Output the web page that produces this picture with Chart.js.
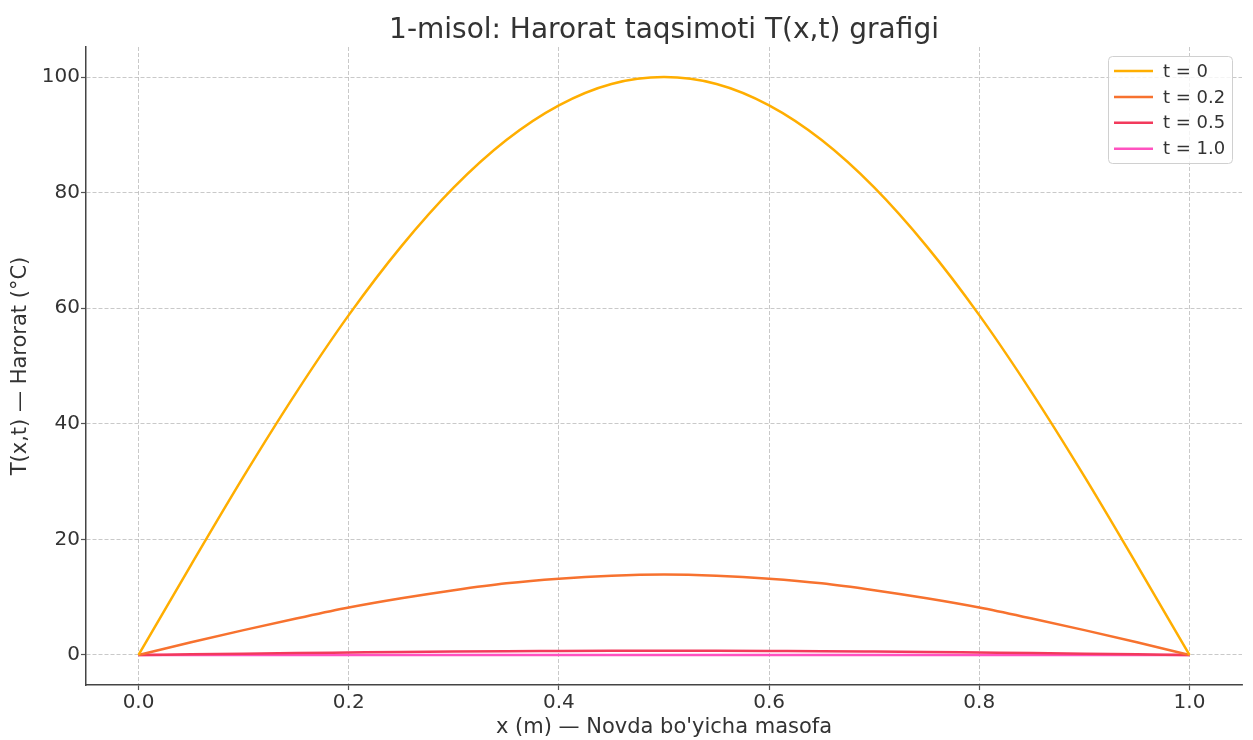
<!DOCTYPE html>
<html>
<head>
<meta charset="utf-8">
<script src="https://cdn.jsdelivr.net/npm/chart.js@4/dist/chart.umd.min.js"></script>
<style>
html,body{margin:0;padding:0;background:#fff;}
#wrap{width:1253px;height:740px;position:relative;}
</style>
</head>
<body>
<div id="wrap"><canvas id="c" width="1253" height="740"></canvas></div>
<script>
const titleText = "1-misol: Harorat taqsimoti T(x,t) grafigi";
const xTitle = "x (m) — Novda bo'yicha masofa";
const yTitle = "T(x,t) — Harorat (°C)";
const xValues = [0,0.05,0.1,0.15,0.2,0.25,0.3,0.35,0.4,0.45,0.5,0.55,0.6,0.65,0.7,0.75,0.8,0.85,0.9,0.95,1.0];
const seriesLabels = ["t = 0","t = 0.2","t = 0.5","t = 1.0"];
const seriesColors = ["#FFAE00","#F7722F","#F23A5C","#FF52C0"];
const t0   = [0,15.6,30.9,45.4,58.8,70.7,80.9,89.1,95.1,98.8,100,98.8,95.1,89.1,80.9,70.7,58.8,45.4,30.9,15.6,0];
const t02  = [0,2.2,4.3,6.3,8.2,9.8,11.2,12.4,13.2,13.7,13.9,13.7,13.2,12.4,11.2,9.8,8.2,6.3,4.3,2.2,0];
const t05  = [0,0.11,0.22,0.33,0.42,0.51,0.58,0.64,0.68,0.71,0.72,0.71,0.68,0.64,0.58,0.51,0.42,0.33,0.22,0.11,0];
const t10  = [0,0.001,0.002,0.002,0.003,0.004,0.004,0.005,0.005,0.005,0.005,0.005,0.005,0.005,0.004,0.004,0.003,0.002,0.002,0.001,0];
const xTicks = [0,0.2,0.4,0.6,0.8,1.0];
const yTicks = [0,20,40,60,80,100];
const allSeries = [t0,t02,t05,t10];

const FONT = "'DejaVu Sans', sans-serif";
const datasets = allSeries.map((vals,i)=>({
  label: seriesLabels[i],
  data: xValues.map((x,j)=>({x:x,y:vals[j]})),
  borderColor: seriesColors[i],
  backgroundColor: seriesColors[i],
  borderWidth: 2.5,
  pointRadius: 0,
  cubicInterpolationMode: 'monotone',
  fill: false
}));

const titlePlugin = {
  id:'mplTitle',
  afterDraw(chart){
    const ctx = chart.ctx;
    const ca = chart.chartArea;
    ctx.save();
    ctx.fillStyle = '#333';
    ctx.font = "28px " + FONT;
    ctx.textAlign = 'center';
    ctx.textBaseline = 'alphabetic';
    ctx.fillText(titleText, (ca.left+ca.right)/2, 38);
    // legend
    const lx = 1108, ly = 56, lw = 124, lh = 107;
    ctx.fillStyle = 'rgba(255,255,255,0.8)';
    ctx.strokeStyle = '#d0d0d0';
    ctx.lineWidth = 1;
    roundRect(ctx, lx+0.5, ly+0.5, lw, lh, 4);
    ctx.fill(); ctx.stroke();
    ctx.font = "18px " + FONT;
    ctx.textAlign = 'left';
    ctx.textBaseline = 'middle';
    chart.data.datasets.forEach((ds,i)=>{
      const y = ly + 15 + i*25.9;
      ctx.strokeStyle = ds.borderColor;
      ctx.lineWidth = 2.5;
      ctx.beginPath(); ctx.moveTo(lx+6, y); ctx.lineTo(lx+45, y); ctx.stroke();
      ctx.fillStyle = '#333';
      ctx.fillText(ds.label, lx+55, y+1);
    });
    ctx.restore();
  }
};
function roundRect(ctx,x,y,w,h,r){
  ctx.beginPath();
  ctx.moveTo(x+r,y);
  ctx.lineTo(x+w-r,y); ctx.quadraticCurveTo(x+w,y,x+w,y+r);
  ctx.lineTo(x+w,y+h-r); ctx.quadraticCurveTo(x+w,y+h,x+w-r,y+h);
  ctx.lineTo(x+r,y+h); ctx.quadraticCurveTo(x,y+h,x,y+h-r);
  ctx.lineTo(x,y+r); ctx.quadraticCurveTo(x,y,x+r,y);
  ctx.closePath();
}

new Chart(document.getElementById('c'), {
  type:'line',
  data:{datasets},
  options:{
    responsive:false,
    animation:false,
    layout:{padding:{top:47,right:11,left:0,bottom:0}},
    plugins:{legend:{display:false},title:{display:false},tooltip:{enabled:false}},
    scales:{
      x:{
        type:'linear', min:-0.05, max:1.05,
        afterBuildTicks(s){ s.ticks = xTicks.map(v=>({value:v})); },
        afterFit(s){ s.height = 55; },
        ticks:{ color:'#333', font:{family:FONT,size:20}, padding:1,
          callback:(v)=>Number(v).toFixed(1) },
        grid:{ color:'rgba(165,165,165,0.75)', lineWidth:0.8, tickLength:5, tickColor:'#555', tickWidth:1.2 },
        border:{ dash:[4,2], color:'#444', width:1.5 },
        title:{ display:true, text:xTitle, color:'#333', font:{family:FONT,size:21}, padding:{top:0,bottom:0} }
      },
      y:{
        type:'linear', min:-5.2, max:105.2,
        afterBuildTicks(s){ s.ticks = yTicks.map(v=>({value:v})); },
        afterFit(s){ s.width = 86; },
        ticks:{ color:'#333', font:{family:FONT,size:20}, padding:1,
          callback:(v)=>String(v) },
        grid:{ color:'rgba(165,165,165,0.75)', lineWidth:0.8, tickLength:5, tickColor:'#555', tickWidth:1.2 },
        border:{ dash:[4,2], color:'#444', width:1.5 },
        title:{ display:true, text:yTitle, color:'#333', font:{family:FONT,size:21}, padding:{top:8,bottom:0} }
      }
    }
  },
  plugins:[titlePlugin]
});
</script>
</body>
</html>
